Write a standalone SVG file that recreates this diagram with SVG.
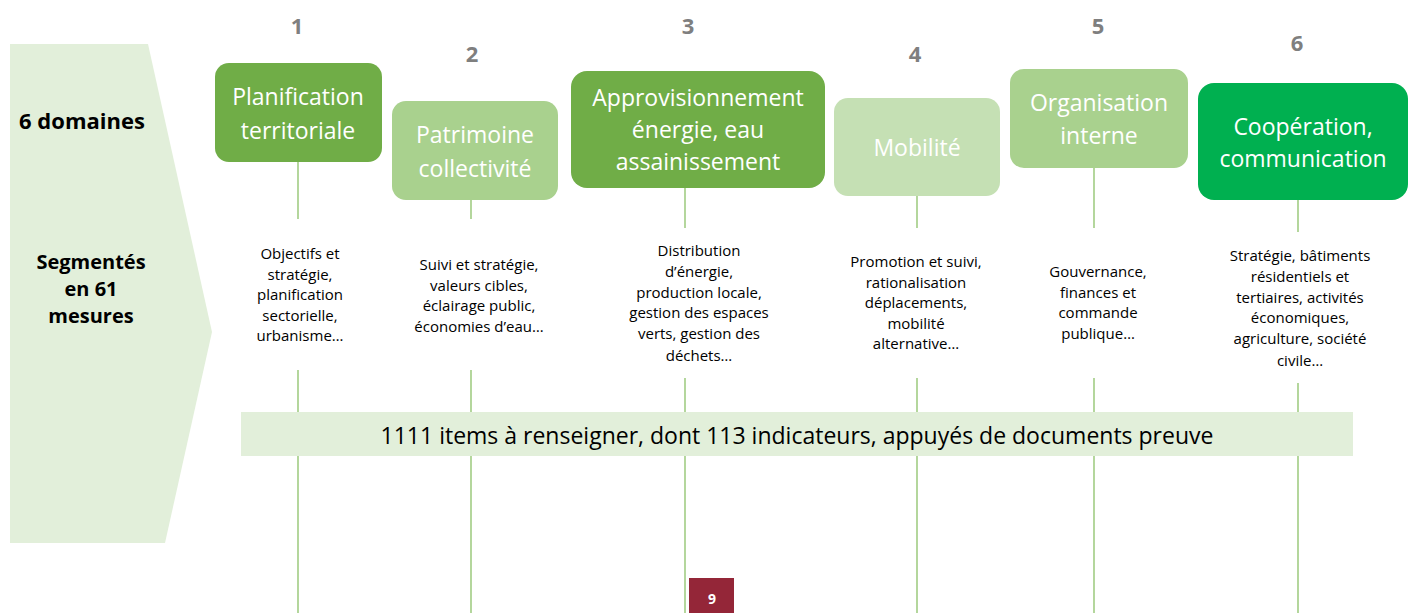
<svg xmlns="http://www.w3.org/2000/svg" width="1413" height="613" viewBox="0 0 1413 613">
<style>
.num{font-family:"Open Sans","Liberation Sans",sans-serif;font-weight:bold;font-size:22px;fill:#7F7F7F;text-anchor:middle}
.nt{font-family:"Open Sans","Liberation Sans",sans-serif;font-size:23px;fill:#FFFFFF;text-anchor:middle}
.desc{font-family:"Open Sans","Liberation Sans",sans-serif;font-size:15px;fill:#000000;text-anchor:middle}
.lbl{font-family:"Open Sans","Liberation Sans",sans-serif;font-weight:bold;fill:#000000;text-anchor:middle}
.ln{stroke:#8CC168;stroke-width:1.3;fill:none}
</style>
<rect width="1413" height="613" fill="#FFFFFF"/>
<g id="side-panel">
<polygon points="10,44 148,44 212,332 165,543 10,543" fill="#E2EFDA"/>
<text class="lbl" x="82" y="129" font-size="22">6 domaines</text>
<text class="lbl" x="91" y="269" font-size="20">Segmentés</text>
<text class="lbl" x="91" y="296" font-size="20">en 61</text>
<text class="lbl" x="91" y="323" font-size="20">mesures</text>
</g>
<g id="connectors">
<line class="ln" x1="298" y1="162" x2="298" y2="219"/>
<line class="ln" x1="298" y1="370" x2="298" y2="613"/>
<line class="ln" x1="471" y1="200" x2="471" y2="219"/>
<line class="ln" x1="471" y1="370" x2="471" y2="613"/>
<line class="ln" x1="685" y1="188" x2="685" y2="228"/>
<line class="ln" x1="685" y1="378" x2="685" y2="613"/>
<line class="ln" x1="917" y1="196" x2="917" y2="228"/>
<line class="ln" x1="917" y1="378" x2="917" y2="613"/>
<line class="ln" x1="1094" y1="168" x2="1094" y2="228"/>
<line class="ln" x1="1094" y1="378" x2="1094" y2="613"/>
<line class="ln" x1="1298" y1="200" x2="1298" y2="232"/>
<line class="ln" x1="1298" y1="383" x2="1298" y2="613"/>
</g>
<g id="node1">
<text class="num" x="297" y="34">1</text>
<rect x="215" y="63" width="167" height="99" rx="14" fill="#70AD47"/>
<text class="nt" x="298" y="105">Planification</text>
<text class="nt" x="298" y="139">territoriale</text>
<text class="desc"><tspan x="300" y="259">Objectifs et</tspan><tspan x="300" y="280">stratégie,</tspan><tspan x="300" y="300">planification</tspan><tspan x="300" y="321">sectorielle,</tspan><tspan x="300" y="341">urbanisme…</tspan></text>
</g>
<g id="node2">
<text class="num" x="472" y="62">2</text>
<rect x="392" y="101" width="166" height="99" rx="14" fill="#A9D18E"/>
<text class="nt" x="475" y="143">Patrimoine</text>
<text class="nt" x="475" y="177">collectivité</text>
<text class="desc"><tspan x="479" y="270">Suivi et stratégie,</tspan><tspan x="479" y="291">valeurs cibles,</tspan><tspan x="479" y="311">éclairage public,</tspan><tspan x="479" y="332">économies d’eau…</tspan></text>
</g>
<g id="node3">
<text class="num" x="688" y="34">3</text>
<rect x="571" y="71" width="254" height="117" rx="16" fill="#70AD47"/>
<text class="nt" x="698" y="106">Approvisionnement</text>
<text class="nt" x="698" y="138">énergie, eau</text>
<text class="nt" x="698" y="170">assainissement</text>
<text class="desc"><tspan x="699" y="256">Distribution</tspan><tspan x="699" y="277">d’énergie,</tspan><tspan x="699" y="298">production locale,</tspan><tspan x="699" y="318">gestion des espaces</tspan><tspan x="699" y="339">verts, gestion des</tspan><tspan x="699" y="361">déchets…</tspan></text>
</g>
<g id="node4">
<text class="num" x="915" y="62">4</text>
<rect x="834" y="98" width="166" height="98" rx="14" fill="#C5E0B4"/>
<text class="nt" x="917" y="156">Mobilité</text>
<text class="desc"><tspan x="916" y="267">Promotion et suivi,</tspan><tspan x="916" y="288">rationalisation</tspan><tspan x="916" y="308">déplacements,</tspan><tspan x="916" y="329">mobilité</tspan><tspan x="916" y="349">alternative…</tspan></text>
</g>
<g id="node5">
<text class="num" x="1098" y="34">5</text>
<rect x="1010" y="69" width="178" height="99" rx="14" fill="#A9D18E"/>
<text class="nt" x="1099" y="111">Organisation</text>
<text class="nt" x="1099" y="144">interne</text>
<text class="desc"><tspan x="1098" y="277">Gouvernance,</tspan><tspan x="1098" y="298">finances et</tspan><tspan x="1098" y="318">commande</tspan><tspan x="1098" y="339">publique…</tspan></text>
</g>
<g id="node6">
<text class="num" x="1297" y="51">6</text>
<rect x="1198" y="83" width="210" height="117" rx="16" fill="#00B050"/>
<text class="nt" x="1303" y="135">Coopération,</text>
<text class="nt" x="1303" y="167">communication</text>
<text class="desc"><tspan x="1300" y="261">Stratégie, bâtiments</tspan><tspan x="1300" y="282">résidentiels et</tspan><tspan x="1300" y="303">tertiaires, activités</tspan><tspan x="1300" y="323">économiques,</tspan><tspan x="1300" y="344">agriculture, société</tspan><tspan x="1300" y="366">civile…</tspan></text>
</g>
<g id="banner">
<rect x="241" y="412" width="1112" height="44" fill="#E2EFDA"/>
<text x="797" y="444" font-family="Open Sans, Liberation Sans, sans-serif" font-size="23" fill="#000000" text-anchor="middle">1111 items à renseigner, dont 113 indicateurs, appuyés de documents preuve</text>
</g>
<g id="page-number">
<rect x="689" y="578" width="45" height="35" fill="#942638"/>
<text x="712" y="604" font-family="Open Sans, Liberation Sans, sans-serif" font-weight="bold" font-size="14" fill="#FFFFFF" text-anchor="middle">9</text>
</g>
</svg>
